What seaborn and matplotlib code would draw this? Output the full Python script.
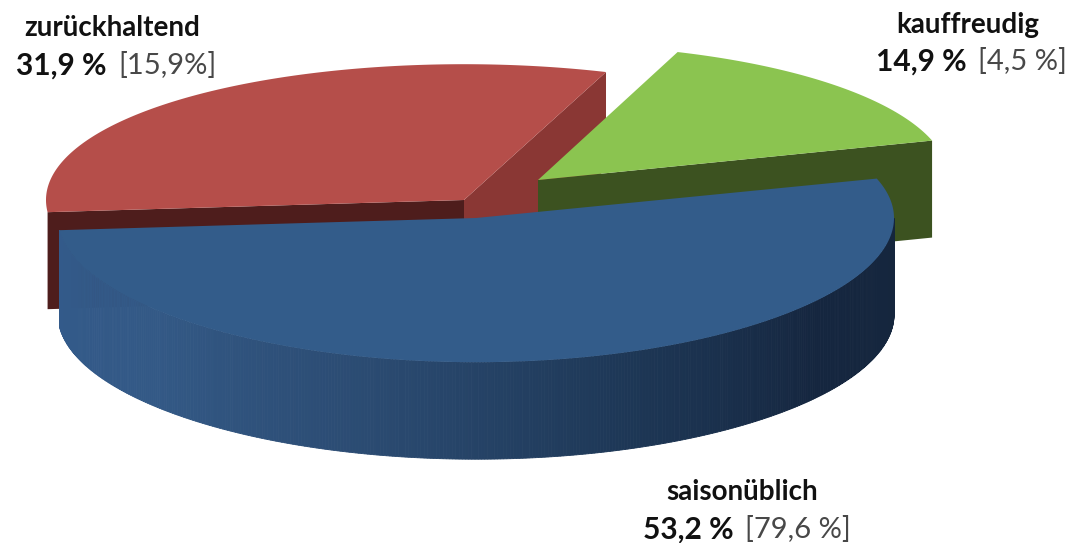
import numpy as np
import matplotlib
matplotlib.use("Agg")
import matplotlib.pyplot as plt
import seaborn as sns

labels = ["saisonüblich", "zurückhaltend", "kauffreudig"]
shares = [53.2, 31.9, 14.9]
share_text = ["53,2 %", "31,9 %", "14,9 %"]
bracket_text = ["[79,6 %]", "[15,9%]", "[4,5 %]"]

sns.set_theme(style="white")
plt.rcParams["font.family"] = ["Lato", "DejaVu Sans"]

# fake 3d pie, everything in pixels of the figure
B, SQUEEZE, DEPTH = 140, 0.03, 97
START = 16.5
centers = [(476, 218), (464, 200), (538, 180)]
radii = [418, 418, 411]


def rim(i, t):
    t = np.radians(t)
    s = np.sin(t)
    cx, cy = centers[i]
    return cx + radii[i] * np.cos(t), cy - B * s * (1 - SQUEEZE * s)


# slices run clockwise from START
sweeps = np.array(shares) / sum(shares) * 360
ends = START - np.cumsum(sweeps)
starts = ends + sweeps

fig, ax = plt.subplots(figsize=(10.65, 5.43), dpi=100)
fig.subplots_adjust(0, 0, 1, 1)
ax.set_xlim(0, 1065)
ax.set_ylim(543, 0)
ax.axis("off")


def wall(i, t0, t1, color, z):
    t = np.linspace(t0, t1, 6)
    x, y = rim(i, t)
    ax.fill(np.r_[x, x[::-1]], np.r_[y, y[::-1] + DEPTH], color=color, lw=0.6, zorder=z)


def cut(i, t, color, z):
    cx, cy = centers[i]
    x, y = rim(i, t)
    ax.fill([cx, x, x, cx], [cy, y, y + DEPTH, cy + DEPTH], color=color, lw=0, zorder=z)


def top(i, t0, t1, color, z):
    cx, cy = centers[i]
    t = np.linspace(t0, t1, 200)
    x, y = rim(i, t)
    ax.fill(np.r_[cx, x], np.r_[cy, y], color=color, lw=0, zorder=z)


# red, at the back
cut(1, starts[1], "#4e1d1c", 1)
cut(1, ends[1], "#8a3734", 2)
top(1, starts[1], ends[1], "#b54e4a", 3)

# green
cut(2, ends[2], "#3c5220", 4)
top(2, starts[2], ends[2], "#8bc450", 5)

# blue in front, wall shaded along the rim
n = 400
shade = sns.blend_palette(["#335a8a", "#335986", "#2b4b72", "#1e3857", "#15263f", "#15263d"], n)
steps = np.linspace(ends[0], 0, n + 1)
for k in range(n):
    wall(0, steps[k], steps[k + 1], shade[k], 6)
top(0, starts[0], ends[0], "#335c8a", 7)

# labels: name, then share and bracket on the line below
name_xy = [(742, 492), (112, 28), (968, 25)]
share_xy = [(734, 530), (107, 66), (967, 62)]
for i in range(3):
    ax.text(*name_xy[i], labels[i], ha="center", va="center", fontsize=20,
            fontweight="bold", color="#111111", zorder=10)
    ax.text(*share_xy[i], share_text[i], ha="right", va="center", fontsize=21.5,
            fontweight="bold", color="#111111", zorder=10)
    ax.text(share_xy[i][0] + 11, share_xy[i][1], bracket_text[i], ha="left", va="center",
            fontsize=21, fontweight="normal", color="#484848", zorder=10)

fig.savefig("out.png", dpi=100)
